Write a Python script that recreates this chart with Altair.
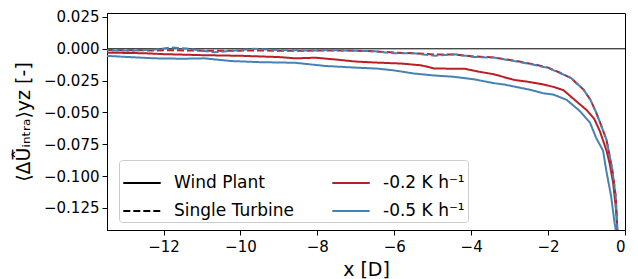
import altair as alt
import pandas as pd

# ---- data ----
wp02_x = [-13.47, -12.5, -12.0, -11.0, -10.0, -9.0, -8.57, -8.05, -7.5, -7.02, -6.5, -5.81, -5.3,
          -4.95, -4.6, -4.18, -3.8, -3.41, -2.89, -2.5, -2.12, -1.85, -1.6, -1.26, -1.0, -0.8,
          -0.65, -0.48, -0.4, -0.31, -0.23, -0.2, -0.19]
wp02_y = [-0.003, -0.0035, -0.0042, -0.005, -0.0055, -0.0065, -0.0075, -0.007, -0.0085, -0.010,
          -0.0108, -0.0116, -0.013, -0.0155, -0.0156, -0.0156, -0.018, -0.020, -0.0244, -0.026,
          -0.028, -0.030, -0.0325, -0.0414, -0.048, -0.055, -0.065, -0.080, -0.090, -0.105,
          -0.127, -0.142, -0.15]

wp05_x = [-13.47, -12.23, -11.5, -10.94, -10.25, -9.5, -8.57, -7.79, -7.0, -6.42, -6.0, -5.47,
          -4.95, -4.44, -3.92, -3.41, -3.15, -2.5, -2.12, -1.86, -1.52, -1.17, -0.91, -0.75,
          -0.57, -0.49, -0.36, -0.27, -0.24, -0.22]
wp05_y = [-0.0056, -0.0075, -0.0078, -0.0075, -0.0096, -0.0105, -0.011, -0.0135, -0.0148,
          -0.0156, -0.017, -0.0195, -0.021, -0.022, -0.024, -0.027, -0.028, -0.032, -0.035,
          -0.036, -0.040, -0.049, -0.058, -0.070, -0.080, -0.095, -0.116, -0.137, -0.142, -0.15]

st_x = [-13.47, -12.8, -12.2, -11.81, -11.4, -10.94, -10.7, -10.2, -9.65, -9.0, -8.36, -7.5,
        -7.0, -6.5, -6.0, -5.5, -4.95, -4.44, -3.92, -3.41, -2.9, -2.37, -2.0, -1.69, -1.4,
        -1.26, -1.08, -0.9, -0.75, -0.61, -0.48, -0.33, -0.24, -0.2, -0.18]
st05_y = [-0.0012, -0.0015, -0.0005, 0.001, 0.0002, -0.0017, -0.0028, -0.0015, 0.0, -0.001,
          -0.0013, -0.0012, -0.0015, -0.002, -0.0035, -0.0035, -0.0055, -0.0043, -0.0064,
          -0.0069, -0.0095, -0.0126, -0.015, -0.019, -0.023, -0.027, -0.032, -0.040, -0.050,
          -0.061, -0.0716, -0.095, -0.116, -0.142, -0.15]
st02_y = [-0.001, -0.0012, -0.0013, -0.0012, -0.0013, -0.0015, -0.0016, -0.0015, -0.0013,
          -0.0015, -0.0015, -0.0013, -0.0015, -0.002, -0.003, -0.0035, -0.0045, -0.0045,
          -0.006, -0.0068, -0.0092, -0.0122, -0.0148, -0.0188, -0.023, -0.027, -0.032, -0.040,
          -0.050, -0.061, -0.0716, -0.095, -0.116, -0.142, -0.15]

x_ticks = [-12, -10, -8, -6, -4, -2, 0]
y_ticks = [0.025, 0.0, -0.025, -0.05, -0.075, -0.1, -0.125]

lab_wp = "Wind Plant"
lab_st = "Single Turbine"
lab_02 = "-0.2 K h\u207b\u00b9"
lab_05 = "-0.5 K h\u207b\u00b9"
legend_values = [lab_wp, lab_st, lab_02, lab_05]
keys = legend_values + ["wp02", "wp05", "st02", "st05"]
red = "#b82025"
blue = "#4682b4"
key_colors = ["black", "black", red, blue, red, blue, red, blue]
key_dashes = [[1, 0], [7, 3], [1, 0], [1, 0], [1, 0], [1, 0], [7, 3], [7, 3]]

rows = []
for k, xs, ys in [("wp02", wp02_x, wp02_y), ("wp05", wp05_x, wp05_y),
                  ("st02", st_x, st02_y), ("st05", st_x, st05_y)]:
    for i, (a, b) in enumerate(zip(xs, ys)):
        rows.append({"key": k, "x": a, "y": b, "i": i})
df = pd.DataFrame(rows)
zero_df = pd.DataFrame({"y": [0.0]})

FONT = "DejaVu Sans"

xscale = alt.Scale(domain=[-13.47, 0], nice=False, zero=False)
yscale = alt.Scale(domain=[-0.1423, 0.0281], nice=False, zero=False)

legend = alt.Legend(
    values=legend_values, columns=2, orient="none", legendX=12, legendY=147, title=None,
    symbolType="stroke", symbolSize=1400, symbolStrokeWidth=2, labelFontSize=17,
    labelFont=FONT, labelColor="black", fillColor="rgba(255,255,255,0.85)",
    strokeColor="#cccccc", cornerRadius=3, padding=3, columnPadding=34, rowPadding=-15,
    labelOffset=12, labelLimit=300,
)

x_enc = alt.X("x:Q", scale=xscale,
              axis=alt.Axis(values=x_ticks, format="d", title="x [D]", labelOverlap=False))
y_enc = alt.Y("y:Q", scale=yscale,
              axis=alt.Axis(values=y_ticks, format=".3f", labelOverlap=False,
                            title="\u27e8\u0394U\u0305\u0302\u1d62\u2099\u209c\u1d63\u2090\u27e9yz [-]"))
c_enc = alt.Color("key:N", scale=alt.Scale(domain=keys, range=key_colors), legend=legend)
d_enc = alt.StrokeDash("key:N", scale=alt.Scale(domain=keys, range=key_dashes), legend=legend)

base = alt.Chart(df).encode(x=x_enc, y=y_enc, color=c_enc, strokeDash=d_enc, order="i:Q")
lines_main = base.transform_filter(alt.datum.key != "st05").mark_line(strokeWidth=2, clip=True)
lines_st05 = base.transform_filter(alt.datum.key == "st05").mark_line(
    strokeWidth=2, clip=True, strokeDashOffset=5)

zero = alt.Chart(zero_df).mark_rule(color="black", strokeWidth=1).encode(y=y_enc)

chart = alt.layer(zero, lines_main, lines_st05).properties(
    width=518, height=217,
    padding={"left": 99, "top": 5, "right": 5, "bottom": 49},
    autosize=alt.AutoSizeParams(type="none"),
).configure_view(
    stroke="black", strokeWidth=1
).configure_axis(
    grid=False, domainColor="black", domainWidth=1, tickColor="black", tickSize=5,
    labelFont=FONT, labelFontSize=15, labelColor="black", labelPadding=3, labelOverlap=False,
    titleFont=FONT, titleFontSize=19, titleColor="black", titleFontWeight="normal",
).configure_axisX(
    titlePadding=6, labelPadding=4
).configure_axisY(
    titlePadding=10
)

chart.save("out.html", embed_options={"renderer": "svg", "actions": False})
